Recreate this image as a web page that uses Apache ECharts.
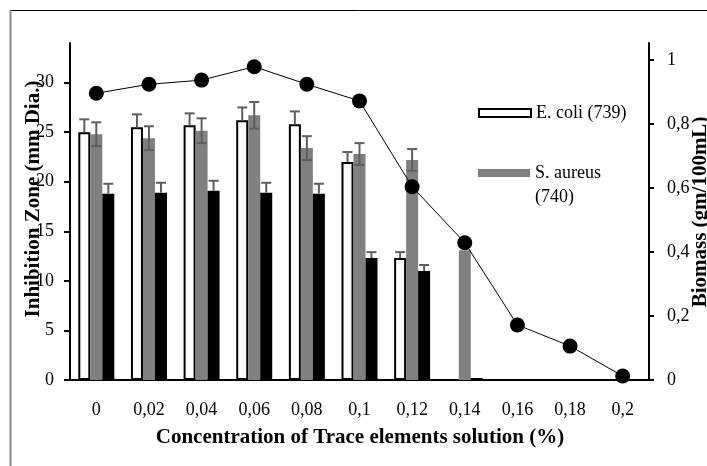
<!DOCTYPE html>
<html>
<head>
<meta charset="utf-8">
<script src="https://cdn.jsdelivr.net/npm/echarts@6/dist/echarts.min.js"></script>
<style>
  html, body { margin: 0; padding: 0; background: #fff; }
  #chart { width: 707px; height: 466px; }
</style>
</head>
<body>
<div id="chart"></div>
<script>
// Trace-element concentration (%) on the category axis
const categories = ['0', '0,02', '0,04', '0,06', '0,08', '0,1', '0,12', '0,14', '0,16', '0,18', '0,2'];

// Inhibition zone (mm diameter) with standard errors
const ecoli      = [25.0, 25.5, 25.7, 26.2, 25.8, 22.0, 12.3, 0, 0, 0, 0];
const ecoliErr   = [1.3, 1.3, 1.2, 1.3, 1.3, 1.0, 0.6, 0, 0, 0, 0];
const saureus    = [24.8, 24.4, 25.15, 26.7, 23.4, 22.8, 22.2, 13.1, 0, 0, 0];
const saureusErr = [1.2, 1.2, 1.25, 1.35, 1.2, 1.1, 1.1, 0, 0, 0, 0];
const strain3    = [18.8, 18.9, 19.1, 18.9, 18.8, 12.3, 11.0, 0.2, 0.1, 0, 0];
const strain3Err = [1.0, 1.0, 1.0, 1.0, 1.0, 0.6, 0.6, 0, 0, 0, 0];

// Biomass (gm/100mL)
const biomass = [0.896, 0.924, 0.937, 0.979, 0.924, 0.872, 0.604, 0.429, 0.172, 0.106, 0.0125];

// Tick values for both value axes
const leftTicks  = [0, 5, 10, 15, 20, 25, 30];
const rightTicks = [0, 0.2, 0.4, 0.6, 0.8, 1];

const FONT = "'Liberation Serif', 'Times New Roman', serif";
const BAR_W = 12;
const ERR_COLOR = '#5e5e5e';

// Error bar drawn over a bar; slot is the bar's position in the group (-1, 0, 1)
function errorSeries(values, errs, slot, withMinus) {
  return {
    type: 'custom',
    yAxisIndex: 0,
    z: 5,
    silent: true,
    data: values.map((v, i) => [i, v, errs[i]]),
    renderItem(params, api) {
      const err = api.value(2);
      if (!err) return null;
      const idx = api.value(0);
      const val = api.value(1);
      const top = api.coord([idx, val + err]);
      const bot = api.coord([idx, withMinus ? val - err : val]);
      const x = top[0] + slot * BAR_W;
      const half = 5;
      const style = { stroke: ERR_COLOR, lineWidth: 2 };
      const children = [
        { type: 'line', shape: { x1: x, y1: top[1], x2: x, y2: bot[1] }, style },
        { type: 'line', shape: { x1: x - half, y1: top[1], x2: x + half, y2: top[1] }, style }
      ];
      if (withMinus) {
        children.push({ type: 'line', shape: { x1: x - half, y1: bot[1], x2: x + half, y2: bot[1] }, style });
      }
      return { type: 'group', children };
    }
  };
}

const chart = echarts.init(document.getElementById('chart'), null, { renderer: 'canvas' });

chart.setOption({
  animation: false,
  backgroundColor: '#fff',
  textStyle: { fontFamily: FONT, color: '#000' },
  grid: { left: 70, right: 58, top: 43, bottom: 86, containLabel: false },
  legend: [
    {
      data: ['E. coli (739)'],
      orient: 'vertical',
      left: 478, top: 102.5,
      padding: 0,
      itemWidth: 52, itemHeight: 8,
      icon: 'rect',
      textStyle: { fontFamily: FONT, fontSize: 18, color: '#000', lineHeight: 21 }
    },
    {
      data: ['S. aureus (740)'],
      orient: 'vertical',
      left: 478, top: 137,
      padding: 0,
      itemWidth: 52, itemHeight: 8,
      icon: 'rect',
      // blank first line keeps "S. aureus" level with the swatch
      formatter: () => '\u00a0\nS. aureus\n(740)',
      textStyle: { fontFamily: FONT, fontSize: 18, color: '#000', lineHeight: 24 }
    }
  ],
  xAxis: {
    type: 'category',
    data: categories,
    axisLine: { lineStyle: { color: '#000', width: 2 } },
    axisTick: { alignWithLabel: true, length: 5, lineStyle: { color: '#000', width: 2 } },
    axisLabel: { fontFamily: FONT, fontSize: 18, color: '#000', margin: 21 }
  },
  yAxis: [
    {
      type: 'value',
      min: 0, max: 34,
      splitLine: { show: false },
      axisLine: { show: true, lineStyle: { color: '#000', width: 2 } },
      axisTick: { show: true, length: 6, customValues: leftTicks, lineStyle: { color: '#000', width: 2 } },
      axisLabel: { customValues: leftTicks, fontFamily: FONT, fontSize: 18, color: '#000', margin: 16 }
    },
    {
      type: 'value',
      min: 0, max: 1.053,
      position: 'right',
      splitLine: { show: false },
      axisLine: { show: true, lineStyle: { color: '#000', width: 2 } },
      axisTick: { show: true, length: 5, customValues: rightTicks, lineStyle: { color: '#000', width: 2 } },
      axisLabel: {
        customValues: rightTicks,
        fontFamily: FONT, fontSize: 18, color: '#000', margin: 18,
        formatter: v => String(v).replace('.', ',')
      }
    }
  ],
  series: [
    {
      name: 'E. coli (739)',
      type: 'bar',
      yAxisIndex: 0,
      barWidth: BAR_W,
      barGap: '0%',
      data: ecoli,
      itemStyle: { color: '#fff', borderColor: '#000', borderWidth: 2 }
    },
    {
      name: 'S. aureus (740)',
      type: 'bar',
      yAxisIndex: 0,
      barWidth: BAR_W,
      barGap: '0%',
      data: saureus,
      itemStyle: { color: '#808080' }
    },
    {
      name: 'Strain 3',
      type: 'bar',
      yAxisIndex: 0,
      barWidth: BAR_W,
      barGap: '0%',
      data: strain3,
      itemStyle: { color: '#000' }
    },
    errorSeries(ecoli, ecoliErr, -1, false),
    errorSeries(saureus, saureusErr, 0, true),
    errorSeries(strain3, strain3Err, 1, false),
    {
      name: 'Biomass',
      type: 'line',
      yAxisIndex: 1,
      z: 10,
      data: biomass,
      symbol: 'circle',
      symbolSize: 15,
      itemStyle: { color: '#000' },
      lineStyle: { color: '#000', width: 1 }
    }
  ],
  graphic: [
    // frame
    { type: 'line', shape: { x1: 10, y1: 10.5, x2: 707, y2: 10.5 }, style: { stroke: '#000', lineWidth: 1 } },
    { type: 'line', shape: { x1: 10.5, y1: 10, x2: 10.5, y2: 466 }, style: { stroke: '#8a8a8a', lineWidth: 2 } },
    // axis titles
    {
      type: 'text', x: 34, y: 199, rotation: Math.PI / 2, z: 20,
      style: { text: 'Inhibition Zone (mm Dia.)', font: 'bold 21px ' + FONT, fill: '#000', align: 'center', verticalAlign: 'middle' }
    },
    {
      type: 'text', x: 701, y: 212, rotation: Math.PI / 2, z: 20,
      style: { text: 'Biomass (gm/100mL)', font: 'bold 21px ' + FONT, fill: '#000', align: 'center', verticalAlign: 'middle' }
    },
    {
      type: 'text', x: 360, y: 438, z: 20,
      style: { text: 'Concentration of Trace elements solution (%)', font: 'bold 21px ' + FONT, fill: '#000', align: 'center', verticalAlign: 'middle' }
    }
  ]
});
</script>
</body>
</html>
